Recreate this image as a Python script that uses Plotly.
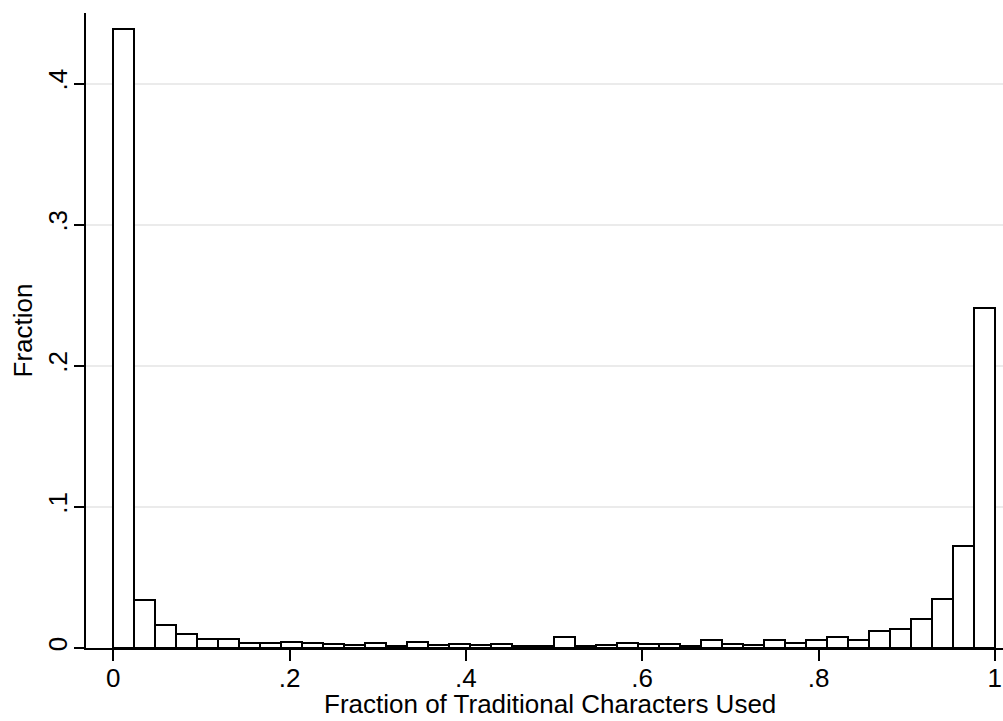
import plotly.graph_objects as go

# Histogram: fraction of observations per bin (42 equal-width bins on [0, 1])
n_bins = 42
fractions = [
    0.439, 0.0342, 0.0163, 0.0096, 0.0061, 0.0064, 0.0038, 0.0039, 0.0042, 0.0035,
    0.0028, 0.0021, 0.0033, 0.0016, 0.0042, 0.0020, 0.0028, 0.0018, 0.0028, 0.0017,
    0.0015, 0.0077, 0.0016, 0.0018, 0.0035, 0.0028, 0.0028, 0.0016, 0.0059, 0.0030,
    0.0023, 0.0059, 0.0038, 0.0059, 0.0075, 0.0054, 0.0120, 0.0134, 0.0205, 0.0349,
    0.0720, 0.2410,
]
x_ticks = [0, 0.2, 0.4, 0.6, 0.8, 1.0]
x_tick_labels = ["0", ".2", ".4", ".6", ".8", "1"]
y_ticks = [0, 0.1, 0.2, 0.3, 0.4]
y_tick_labels = ["0", ".1", ".2", ".3", ".4"]
x_title = "Fraction of Traditional Characters Used"
y_title = "Fraction"

bin_w = 1.0 / n_bins
bin_left = [i * bin_w for i in range(n_bins)]

FONT = "Liberation Sans, Arial, sans-serif"
FS = 26

fig = go.Figure()
fig.add_trace(go.Bar(
    x=bin_left,
    y=fractions,
    width=bin_w,
    offset=0,
    marker=dict(color="white", line=dict(color="black", width=2)),
    hoverinfo="x+y",
))

fig.update_layout(
    width=1003, height=721,
    margin=dict(l=86, r=0, t=13, b=73, autoexpand=False),
    paper_bgcolor="white", plot_bgcolor="white",
    showlegend=False,
    bargap=0,
    font=dict(family=FONT, size=FS, color="black"),
)
fig.update_xaxes(
    range=[-0.031, 1.0093],
    automargin=False,
    tickmode="array", tickvals=x_ticks, ticktext=x_tick_labels,
    ticks="outside", ticklen=11, tickwidth=1.5, tickcolor="black",
    ticklabelstandoff=-5,
    showline=True, linecolor="black", linewidth=1.5,
    showgrid=False, zeroline=False,
    tickfont=dict(family=FONT, size=FS),
)
fig.update_yaxes(
    range=[0, 0.45],
    automargin=False,
    tickmode="array", tickvals=y_ticks, ticktext=y_tick_labels,
    tickangle=-90,
    ticks="outside", ticklen=10, tickwidth=1.5, tickcolor="black",
    ticklabelstandoff=-3,
    showline=True, linecolor="black", linewidth=1.5,
    showgrid=True, gridcolor="#ebebeb", gridwidth=2,
    zeroline=False,
    tickfont=dict(family=FONT, size=FS),
)

# Axis titles placed as annotations for precise positioning
fig.add_annotation(
    text=x_title, xref="paper", yref="paper", x=0.5055, y=0,
    xanchor="center", yanchor="middle", yshift=-56, showarrow=False,
    font=dict(family=FONT, size=FS, color="black"),
)
fig.add_annotation(
    text=y_title, xref="paper", yref="paper", x=0, y=0.5,
    xanchor="center", yanchor="middle", xshift=-64, textangle=-90, showarrow=False,
    font=dict(family=FONT, size=FS, color="black"),
)

fig.write_html(
    "out.html",
    config={"displayModeBar": False},
    post_script="document.body.style.margin='0px';",
)
